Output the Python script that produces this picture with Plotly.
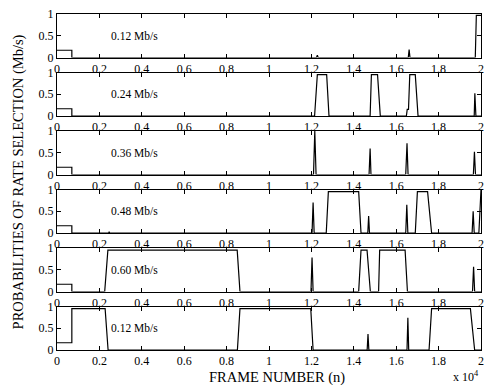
import plotly.graph_objects as go

# frame number in units of 10^4
labels = ["0.12 Mb/s", "0.24 Mb/s", "0.36 Mb/s", "0.48 Mb/s", "0.60 Mb/s", "0.12 Mb/s"]

x1 = [0, 0.07, 0.07, 1.224, 1.228, 1.232, 1.657, 1.661, 1.665, 1.973, 1.978, 2.0]
y1 = [0.167, 0.167, 0, 0, 0.05, 0, 0, 0.18, 0, 0, 0.97, 0.97]

x2 = [0, 0.07, 0.07, 1.215, 1.228, 1.272, 1.283, 1.477, 1.483, 1.512, 1.525,
      1.648, 1.652, 1.658, 1.664, 1.69, 1.703, 1.968, 1.971, 1.976, 2.0]
y2 = [0.167, 0.167, 0, 0, 0.95, 0.95, 0, 0, 0.95, 0.95, 0,
      0, 0.15, 0.15, 0.95, 0.95, 0, 0, 0.52, 0, 0]

x3 = [0, 0.07, 0.07, 1.21, 1.216, 1.222, 1.472, 1.477, 1.481, 1.645, 1.651, 1.656,
      1.964, 1.969, 1.974, 2.0]
y3 = [0.167, 0.167, 0, 0, 1.0, 0, 0, 0.6, 0, 0, 0.72, 0, 0, 0.52, 0, 0]

x4 = [0, 0.07, 0.07, 0.244, 0.246, 0.248, 1.203, 1.208, 1.213, 1.27, 1.28, 1.423, 1.434,
      1.466, 1.470, 1.474, 1.645, 1.65, 1.655, 1.69, 1.70, 1.748, 1.767,
      1.958, 1.963, 1.968, 1.99, 2.0]
y4 = [0.167, 0.167, 0, 0, 0.03, 0, 0, 0.7, 0, 0, 0.95, 0.95, 0,
      0, 0.39, 0, 0, 0.65, 0, 0, 0.95, 0.95, 0,
      0, 0.5, 0, 0, 1.0]

x5 = [0, 0.07, 0.07, 0.225, 0.24, 0.85, 0.863, 1.198, 1.203, 1.208,
      1.423, 1.434, 1.4625, 1.478, 1.517, 1.522, 1.642, 1.653, 1.96, 1.965, 1.97, 2.0]
y5 = [0.167, 0.167, 0, 0, 0.95, 0.95, 0, 0, 0.78, 0,
      0, 0.95, 0.95, 0, 0, 0.95, 0.95, 0, 0, 0.57, 0, 0]

x6 = [0, 0.07, 0.07, 0.227, 0.241, 0.851, 0.863, 1.197, 1.208, 1.463, 1.467, 1.471,
      1.651, 1.655, 1.659, 1.755, 1.767, 1.95, 1.97, 2.0]
y6 = [0.167, 0.167, 0.95, 0.95, 0, 0, 0.95, 0.95, 0, 0, 0.37, 0,
      0, 0.74, 0, 0, 0.95, 0.95, 0, 0]

xs = [x1, x2, x3, x4, x5, x6]
ys = [y1, y2, y3, y4, y5, y6]

x_tickvals = [0, 0.2, 0.4, 0.6, 0.8, 1, 1.2, 1.4, 1.6, 1.8, 2]
x_ticktext = ["0", "0.2", "0.4", "0.6", "0.8", "1", "1.2", "1.4", "1.6", "1.8", "2"]
y_tickvals = [0, 0.5, 1]
y_ticktext = ["0", "0.5", "1"]

FONT = "Liberation Serif"
W, H = 490, 385
mt, mb = 14, 35
plot_h = H - mt - mb
pitch, ph = 58.5, 43.5

fig = go.Figure()
layout = {}
for i in range(6):
    n = "" if i == 0 else str(i + 1)
    fig.add_trace(go.Scatter(x=xs[i], y=ys[i], mode="lines",
                             line=dict(color="black", width=1.2),
                             xaxis="x" + n, yaxis="y" + n, showlegend=False,
                             hoverinfo="skip"))
    top_px = i * pitch
    bot_px = top_px + ph
    d = [(plot_h - bot_px) / plot_h, (plot_h - top_px) / plot_h]
    layout["xaxis" + n] = dict(range=[0, 2], anchor="y" + n, domain=[0, 1],
                               tickvals=x_tickvals, ticktext=x_ticktext,
                               ticks="inside", ticklen=4, tickcolor="black",
                               showline=True, linecolor="black", linewidth=1,
                               mirror="ticks", showgrid=False, zeroline=False,
                               tickfont=dict(family=FONT, size=12, color="black"))
    layout["yaxis" + n] = dict(range=[0, 1], anchor="x" + n, domain=d,
                               tickvals=y_tickvals, ticktext=y_ticktext,
                               ticks="inside", ticklen=4, tickcolor="black",
                               showline=True, linecolor="black", linewidth=1,
                               mirror="ticks", showgrid=False, zeroline=False,
                               tickfont=dict(family=FONT, size=12, color="black"))

annotations = []
for i in range(6):
    n = "" if i == 0 else str(i + 1)
    annotations.append(dict(x=0.245, y=0.5, xref="x" + n, yref="y" + n,
                            text=labels[i], showarrow=False, xanchor="left",
                            yanchor="middle",
                            font=dict(family=FONT, size=11.5, color="black")))

annotations.append(dict(x=-0.091, y=0.5, xref="paper", yref="paper",
                        text="PROBABILITIES OF RATE SELECTION (Mb/s)", textangle=-90,
                        showarrow=False, xanchor="center", yanchor="middle",
                        font=dict(family=FONT, size=14.5, color="black")))
annotations.append(dict(x=0.52, y=0, xref="paper", yref="paper",
                        text="FRAME NUMBER (n)", showarrow=False,
                        xanchor="center", yanchor="middle", yshift=-27,
                        font=dict(family=FONT, size=14.5, color="black")))
annotations.append(dict(x=1.0, y=0, xref="paper", yref="paper",
                        text="x 10<sup>4</sup>", showarrow=False,
                        xanchor="right", yanchor="middle", yshift=-26,
                        font=dict(family=FONT, size=12, color="black")))

fig.update_layout(width=W, height=H, margin=dict(l=57, r=6, t=mt, b=mb),
                  paper_bgcolor="white", plot_bgcolor="white",
                  annotations=annotations, **layout)

fig.write_html("out.html")
